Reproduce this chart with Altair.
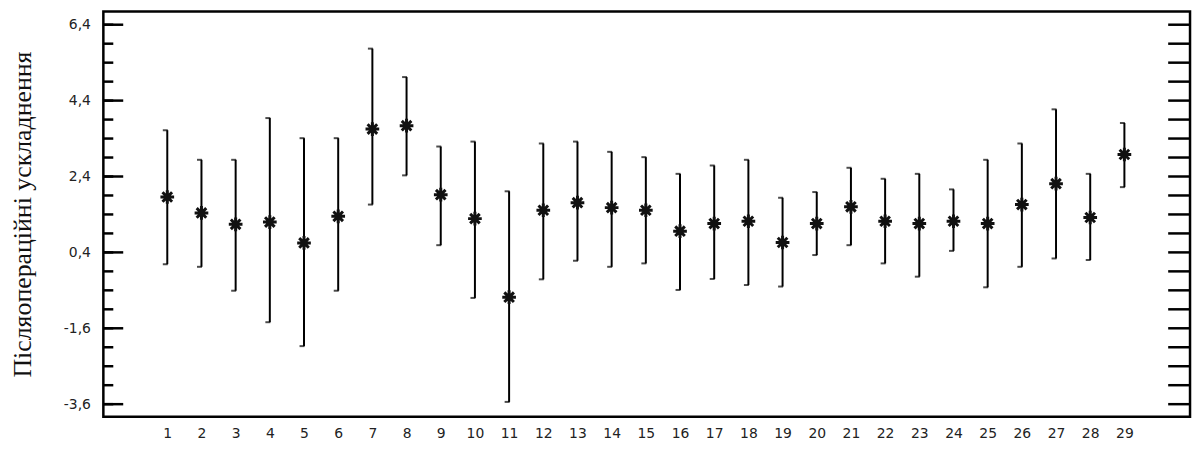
import altair as alt
import pandas as pd

categories = list(range(1, 30))
means = [1.86, 1.44, 1.14, 1.20, 0.65, 1.35, 3.65, 3.74, 1.92, 1.29, -0.78, 1.51, 1.71, 1.58, 1.51,
         0.96, 1.16, 1.22, 0.66, 1.16, 1.60, 1.22, 1.16, 1.22, 1.16, 1.66, 2.21, 1.32, 2.98]
upper = [3.62, 2.84, 2.84, 3.94, 3.41, 3.41, 5.77, 5.02, 3.19, 3.32, 2.01, 3.27, 3.32, 3.05, 2.91,
         2.47, 2.69, 2.84, 1.84, 1.99, 2.63, 2.34, 2.47, 2.06, 2.84, 3.27, 4.17, 2.47, 3.81]
lower = [0.09, 0.02, -0.61, -1.44, -2.07, -0.61, 1.66, 2.43, 0.59, -0.80, -3.54, -0.31, 0.18, 0.02, 0.11,
         -0.59, -0.30, -0.46, -0.50, 0.33, 0.59, 0.11, -0.24, 0.44, -0.52, 0.02, 0.24, 0.20, 2.12]
major_ticks = [-3.6, -1.6, 0.4, 2.4, 4.4, 6.4]
minor_ticks = [round(-3.6 + 0.5 * i, 2) for i in range(21)]
y_title = "Післяопераційні ускладнення"

W, H = 1094, 408
xdom = [-0.87, 30.92]
ydom = [-3.93, 6.75]

df = pd.DataFrame({"cat": categories, "mean": means, "lo": lower, "hi": upper})
minor_df = pd.DataFrame({"v": minor_ticks})
major_df = pd.DataFrame({"v": major_ticks})

xs = alt.Scale(domain=xdom, nice=False, zero=False)
ys = alt.Scale(domain=ydom, nice=False, zero=False)

x_axis = alt.Axis(values=categories, format="d", title=None, labelOverlap=False)
y_axis = alt.Axis(values=major_ticks, labelOverlap=False,
                  labelExpr="replace(replace(format(datum.value, '.1f'), '.', ','), '\u2212', '-')",
                  title=y_title)

X = alt.X("cat:Q", scale=xs, axis=x_axis)

base = alt.Chart(df)

bars = base.mark_rule(color="black", strokeWidth=2).encode(
    x=X,
    y=alt.Y("lo:Q", scale=ys, axis=y_axis),
    y2="hi:Q",
)
cap_hi = base.mark_tick(orient="horizontal", size=5, thickness=2, color="black", xOffset=-2).encode(
    x=X, y=alt.Y("hi:Q", scale=ys, axis=y_axis))
cap_lo = base.mark_tick(orient="horizontal", size=5, thickness=2, color="black", xOffset=-2).encode(
    x=X, y=alt.Y("lo:Q", scale=ys, axis=y_axis))

star_path = "M-1,0L1,0M0,-1L0,1M-0.7,-0.7L0.7,0.7M-0.7,0.7L0.7,-0.7"
stars = base.mark_point(shape=star_path, filled=False, size=190, strokeWidth=3,
                        color="#111", opacity=1).encode(
    x=X, y=alt.Y("mean:Q", scale=ys, axis=y_axis))

left_minor = alt.Chart(minor_df).mark_rule(color="black", strokeWidth=2.5).encode(
    y=alt.Y("v:Q", scale=ys, axis=y_axis), x=alt.value(0), x2=alt.value(10))
left_major = alt.Chart(major_df).mark_rule(color="black", strokeWidth=2.5).encode(
    y=alt.Y("v:Q", scale=ys, axis=y_axis), x=alt.value(0), x2=alt.value(20))
right_ticks = alt.Chart(minor_df).mark_rule(color="black", strokeWidth=2.5).encode(
    y=alt.Y("v:Q", scale=ys, axis=y_axis), x=alt.value(W - 22), x2=alt.value(W))

chart = alt.layer(bars, cap_hi, cap_lo, stars, left_minor, left_major, right_ticks).properties(
    width=W, height=H,
    autosize=alt.AutoSizeParams(type="none"),
    padding={"left": 96, "top": 2, "right": 4, "bottom": 22},
    background="white",
).configure_view(
    stroke="black", strokeWidth=2.5
).configure_axis(
    ticks=False, tickSize=0, domain=False, grid=False, labelOverlap=False,
    labelFont="DejaVu Sans", labelFontSize=14, labelColor="#222",
    titleFont="Liberation Serif", titleFontSize=26, titleFontWeight="normal", titleColor="#111",
).configure_axisX(
    labelPadding=10
).configure_axisY(
    labelPadding=13, titlePadding=28
)

chart.save("out.html", embed_options={"renderer": "svg", "actions": False})
